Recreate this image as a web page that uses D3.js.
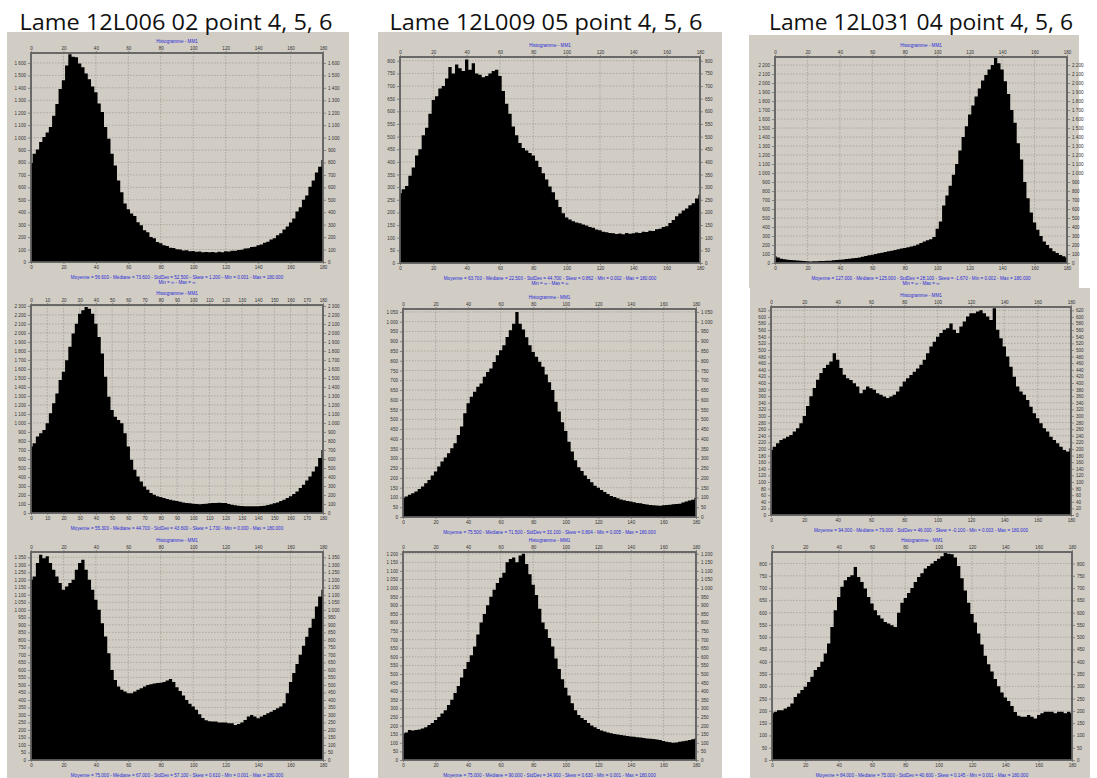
<!DOCTYPE html>
<html>
<head>
<meta charset="utf-8">
<script src="https://cdn.jsdelivr.net/npm/d3@7"></script>
<style>
  body { margin: 0; background: #fff; }
  svg { display: block; }
</style>
</head>
<body>
<svg id="fig" width="1097" height="778"></svg>
<script>
// slide titles, one per column
const slideTitles = ["Lame 12L006 02 point 4, 5, 6", "Lame 12L009 05 point 4, 5, 6", "Lame 12L031 04 point 4, 5, 6"];

// histogram counts, one value every 2 units from 0 to 180
const l006p4 = [796, 870, 905, 965, 1005, 1040, 1085, 1175, 1270, 1390,
  1460, 1580, 1670, 1650, 1645, 1595, 1565, 1515, 1470, 1410,
  1365, 1275, 1205, 1085, 990, 870, 775, 655, 560, 470,
  425, 390, 370, 320, 295, 255, 240, 200, 190, 160,
  150, 135, 128, 115, 112, 102, 101, 93, 94, 86,
  88, 82, 84, 78, 81, 78, 80, 77, 83, 79,
  86, 84, 90, 90, 97, 98, 108, 110, 120, 122,
  135, 140, 155, 162, 180, 190, 215, 232, 262, 285,
  318, 350, 405, 440, 500, 535, 605, 655, 720, 765,
  820];
const l009p4 = [276, 292, 305, 345, 378, 425, 450, 505, 535, 590,
  645, 660, 690, 700, 730, 775, 750, 785, 770, 760,
  805, 765, 790, 750, 745, 735, 740, 750, 760, 765,
  740, 680, 630, 590, 540, 505, 475, 455, 445, 435,
  425, 405, 380, 355, 330, 303, 280, 250, 222, 197,
  180, 172, 165, 160, 157, 152, 148, 142, 139, 133,
  130, 124, 122, 119, 118, 115, 117, 114, 119, 116,
  118, 121, 119, 124, 123, 128, 127, 134, 136, 142,
  145, 158, 170, 185, 196, 208, 216, 228, 236, 255,
  270];
const l031p4 = [74, 60, 48, 42, 36, 32, 30, 27, 26, 22,
  19, 18, 20, 19, 21, 22, 24, 26, 30, 34,
  37, 40, 44, 48, 52, 56, 62, 70, 78, 86,
  93, 100, 108, 115, 122, 130, 137, 145, 152, 160,
  167, 175, 184, 193, 205, 222, 238, 252, 265, 290,
  380, 460, 640, 750, 860, 980, 1100, 1250, 1400, 1520,
  1650, 1750, 1850, 1940, 2030, 2090, 2150, 2200, 2280, 2220,
  2150, 2020, 1880, 1700, 1560, 1330, 1150, 900, 720, 560,
  450, 370, 300, 240, 200, 165, 130, 110, 90, 75,
  60];
const l006p5 = [738, 775, 849, 886, 923, 996, 1107, 1218, 1328, 1476,
  1568, 1697, 1845, 1993, 2103, 2214, 2251, 2288, 2269, 2214,
  2103, 1956, 1771, 1513, 1292, 1144, 1070, 1033, 996, 886,
  738, 590, 480, 406, 351, 295, 258, 221, 203, 185,
  177, 166, 155, 148, 140, 133, 125, 118, 111, 107,
  103, 100, 96, 100, 103, 107, 111, 112, 114, 112,
  111, 100, 92, 86, 81, 78, 74, 74, 74, 74,
  74, 77, 81, 88, 96, 107, 118, 133, 148, 166,
  185, 212, 240, 277, 314, 360, 406, 460, 517, 610,
  701];
const l009p5 = [97, 105, 114, 122, 131, 143, 156, 173, 190, 212,
  233, 258, 284, 305, 327, 352, 378, 420, 463, 531,
  582, 616, 641, 667, 684, 718, 743, 760, 794, 828,
  854, 879, 922, 956, 990, 1050, 990, 960, 920, 880,
  845, 820, 795, 769, 730, 690, 650, 590, 540, 485,
  440, 385, 335, 290, 255, 235, 212, 195, 178, 160,
  150, 138, 128, 118, 108, 102, 96, 90, 86, 82,
  79, 75, 72, 70, 67, 64, 62, 60, 59, 58,
  60, 61, 63, 65, 67, 68, 74, 80, 84, 88,
  97];
const l031p5 = [197, 207, 217, 227, 232, 237, 242, 253, 263, 278,
  300, 330, 360, 385, 410, 430, 445, 455, 465, 490,
  470, 445, 425, 414, 409, 399, 389, 369, 379, 389,
  384, 379, 369, 364, 359, 354, 359, 364, 374, 389,
  404, 414, 424, 434, 444, 455, 470, 490, 510, 525,
  540, 551, 561, 566, 580, 561, 551, 571, 586, 601,
  611, 611, 616, 620, 611, 601, 591, 626, 561, 535,
  510, 480, 449, 419, 389, 374, 364, 348, 328, 308,
  293, 278, 263, 253, 237, 227, 217, 207, 197, 192,
  202];
const l006p6 = [1200, 1222, 1311, 1367, 1344, 1356, 1311, 1267, 1222, 1178,
  1133, 1156, 1178, 1200, 1267, 1311, 1333, 1267, 1200, 1133,
  1067, 1000, 911, 822, 711, 600, 533, 489, 467, 456,
  444, 444, 456, 467, 478, 489, 500, 505, 510, 512,
  515, 520, 530, 540, 520, 485, 460, 430, 400, 375,
  356, 335, 305, 280, 265, 258, 256, 256, 249, 249,
  249, 244, 244, 233, 240, 249, 267, 289, 300, 289,
  278, 289, 300, 311, 322, 333, 344, 356, 378, 444,
  520, 580, 640, 700, 760, 820, 880, 940, 1022, 1089,
  1133];
const l009p6 = [154, 160, 174, 172, 174, 178, 183, 190, 203, 215,
  232, 250, 270, 290, 320, 350, 390, 430, 480, 530,
  570, 610, 660, 730, 800, 850, 900, 950, 990, 1030,
  1060, 1090, 1150, 1170, 1178, 1150, 1190, 1200, 1140, 1080,
  1020, 960, 880, 800, 760, 710, 660, 590, 530, 470,
  420, 375, 330, 290, 262, 245, 232, 215, 200, 190,
  180, 172, 166, 160, 155, 151, 148, 145, 142, 139,
  137, 135, 133, 131, 128, 125, 123, 122, 119, 116,
  110, 106, 103, 100, 102, 106, 109, 112, 116, 120,
  125];
const l031p6 = [190, 196, 203, 203, 210, 217, 230, 257, 271, 285,
  298, 318, 339, 366, 379, 400, 434, 474, 542, 610,
  664, 705, 732, 745, 752, 786, 745, 725, 698, 664,
  637, 610, 589, 576, 562, 556, 549, 542, 600, 640,
  660, 680, 700, 725, 745, 760, 780, 790, 800, 810,
  820, 830, 845, 840, 838, 825, 790, 740, 690, 640,
  595, 560, 515, 470, 425, 390, 360, 330, 300, 275,
  255, 240, 220, 195, 180, 176, 176, 183, 176, 169,
  183, 190, 196, 196, 196, 190, 196, 196, 190, 196,
  190];

// row-major order: row = point 4, 5, 6 ; column = slide
const counts = [l006p4, l009p4, l031p4, l006p5, l009p5, l031p5, l006p6, l009p6, l031p6];

// axis settings per chart
const yTop = [1680, 815, 2290, 2310, 1065, 630, 1385, 1210, 847];
const yLastTick = [1600, 800, 2200, 2300, 1050, 620, 1350, 1200, 800];
const yTickStep = [100, 50, 100, 100, 50, 20, 50, 50, 50];
const xTicks20 = [0, 20, 40, 60, 80, 100, 120, 140, 160, 180];
const xTicks10 = [0, 10, 20, 30, 40, 50, 60, 70, 80, 90, 100, 110, 120, 130, 140, 150, 160, 170, 180];
const xTickSets = [xTicks20, xTicks20, xTicks20, xTicks10, xTicks20, xTicks20, xTicks20, xTicks20, xTicks20];

const statLines = [
  "Moyenne = 56.600 - Médiane = 73.600 - StdDev = 52.500 - Skew = 1.200 - Min = 0.001 - Max = 180.000",
  "Moyenne = 63.700 - Médiane = 22.500 - StdDev = 44.700 - Skew = 0.862 - Min = 0.002 - Max = 180.000",
  "Moyenne = 127.000 - Médiane = 125.000 - StdDev = 28.100 - Skew = -1.670 - Min = 0.002 - Max = 180.000",
  "Moyenne = 55.300 - Médiane = 44.700 - StdDev = 43.600 - Skew = 1.730 - Min = 0.000 - Max = 180.000",
  "Moyenne = 75.500 - Médiane = 71.500 - StdDev = 33.100 - Skew = 0.804 - Min = 0.005 - Max = 180.000",
  "Moyenne = 94.000 - Médiane = 79.000 - StdDev = 46.000 - Skew = -0.100 - Min = 0.003 - Max = 180.000",
  "Moyenne = 75.000 - Médiane = 67.000 - StdDev = 57.100 - Skew = 0.610 - Min = 0.001 - Max = 180.000",
  "Moyenne = 75.000 - Médiane = 90.000 - StdDev = 34.900 - Skew = 0.630 - Min = 0.001 - Max = 180.000",
  "Moyenne = 84.000 - Médiane = 75.000 - StdDev = 40.600 - Skew = 0.145 - Min = 0.001 - Max = 180.000"
];

// layout (pixels)
const panels = [
  {x: 7, y: 32, w: 342, h: 746},
  {x: 378, y: 32, w: 344, h: 746},
  {x: 749, y: 35, w: 330, h: 253},
  {x: 750, y: 288, w: 340, h: 490}
];
const titleX = [176, 546, 921];
const titleW = [313, 313, 304];
const frames = [
  {l: 31, r: 323, t: 53, b: 262},
  {l: 400, r: 700, t: 57, b: 263},
  {l: 775, r: 1067, t: 57, b: 263},
  {l: 31, r: 323, t: 305, b: 513},
  {l: 403, r: 696, t: 309, b: 517},
  {l: 771, r: 1071, t: 307, b: 515},
  {l: 31, r: 323, t: 552, b: 760},
  {l: 403, r: 696, t: 552, b: 760},
  {l: 772, r: 1072, t: 552, b: 760}
];

const binX = d3.range(0, 181, 2);
const fmt = d3.formatLocale({decimal: ".", thousands: " ", grouping: [3], currency: ["", ""]}).format(",");
const gray = "#d1cdc5";
const blue = "#2b2bd6";

const svg = d3.select("#fig");

svg.selectAll("rect.panel")
  .data(panels)
  .enter().append("rect")
  .attr("class", "panel")
  .attr("x", d => d.x).attr("y", d => d.y)
  .attr("width", d => d.w).attr("height", d => d.h)
  .attr("fill", gray);

svg.selectAll("text.slide")
  .data(slideTitles)
  .enter().append("text")
  .attr("class", "slide")
  .attr("x", (d, i) => titleX[i])
  .attr("y", 30)
  .attr("text-anchor", "middle")
  .attr("textLength", (d, i) => titleW[i])
  .attr("lengthAdjust", "spacingAndGlyphs")
  .style("font-family", "'Open Sans', 'Noto Sans', sans-serif")
  .style("font-size", "21px")
  .attr("fill", "#111")
  .text(d => d);

counts.forEach((values, i) => {
  const f = frames[i];
  const x = d3.scaleLinear().domain([0, 180]).range([f.l, f.r]);
  const y = d3.scaleLinear().domain([0, yTop[i]]).range([f.b, f.t]);
  const yTicks = d3.range(0, yLastTick[i] + 1, yTickStep[i]);
  const xTicks = xTickSets[i];
  const g = svg.append("g");

  // dotted grid
  g.selectAll("line.gx")
    .data(xTicks.slice(1, -1))
    .enter().append("line")
    .attr("x1", d => x(d)).attr("x2", d => x(d))
    .attr("y1", f.t).attr("y2", f.b)
    .attr("stroke", "#9d998f").attr("stroke-width", 0.7).attr("stroke-dasharray", "1.5,1.5");
  g.selectAll("line.gy")
    .data(yTicks.slice(1))
    .enter().append("line")
    .attr("x1", f.l).attr("x2", f.r)
    .attr("y1", d => y(d)).attr("y2", d => y(d))
    .attr("stroke", "#9d998f").attr("stroke-width", 0.7).attr("stroke-dasharray", "1.5,1.5");

  // histogram
  const area = d3.area()
    .x((d, j) => x(binX[j]))
    .y0(y(0))
    .y1(d => y(Math.min(d, yTop[i])))
    .curve(d3.curveStep);
  g.append("path")
    .datum(values)
    .attr("d", area)
    .attr("fill", "#000");

  // frame
  g.append("rect")
    .attr("x", f.l).attr("y", f.t)
    .attr("width", f.r - f.l).attr("height", f.b - f.t)
    .attr("fill", "none").attr("stroke", "#5e5e5e").attr("stroke-width", 1.8);

  // axes
  const styleAxis = sel => {
    sel.select(".domain").remove();
    sel.selectAll(".tick line").attr("stroke", "#555").attr("stroke-width", 0.6);
    sel.selectAll(".tick text")
      .attr("fill", "#333")
      .style("font-family", "'Liberation Sans', Arial, sans-serif")
      .style("font-size", "4.6px");
  };
  g.append("g").attr("transform", `translate(${f.l - 1},0)`)
    .call(d3.axisLeft(y).tickValues(yTicks).tickFormat(fmt).tickSize(2).tickPadding(2))
    .call(styleAxis);
  g.append("g").attr("transform", `translate(${f.r + 1},0)`)
    .call(d3.axisRight(y).tickValues(yTicks).tickFormat(fmt).tickSize(2).tickPadding(2))
    .call(styleAxis);
  g.append("g").attr("transform", `translate(0,${f.t - 1})`)
    .call(d3.axisTop(x).tickValues(xTicks).tickSize(1).tickPadding(1))
    .call(styleAxis);
  g.append("g").attr("transform", `translate(0,${f.b + 1})`)
    .call(d3.axisBottom(x).tickValues(xTicks).tickSize(1).tickPadding(2))
    .call(styleAxis);

  // blue captions
  const cx = (f.l + f.r) / 2;
  const caption = (txt, yy) => g.append("text")
    .attr("x", cx).attr("y", yy)
    .attr("text-anchor", "middle")
    .attr("fill", blue)
    .style("font-family", "'Liberation Sans', Arial, sans-serif")
    .style("font-size", "4.6px")
    .text(txt);
  caption("Histogramme - MM1", f.t - 10);
  caption(statLines[i], f.b + 16.5);
  if (i < 3) caption("Min = ∞ - Max = ∞", f.b + 22);
});
</script>
</body>
</html>
